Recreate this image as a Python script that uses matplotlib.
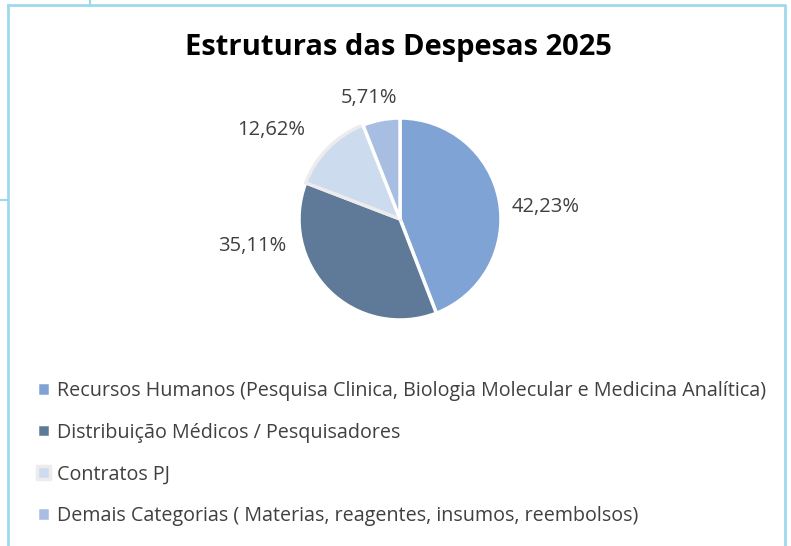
import matplotlib
matplotlib.use("Agg")
from matplotlib import pyplot as plt
from matplotlib.lines import Line2D

plt.rcParams['font.family'] = ['Open Sans', 'DejaVu Sans']

# data
categorias = [
    "Recursos Humanos (Pesquisa Clinica, Biologia Molecular e Medicina Analítica)",
    "Distribuição Médicos / Pesquisadores",
    "Contratos PJ",
    "Demais Categorias ( Materias, reagentes, insumos, reembolsos)",
]
percentuais = [42.23, 35.11, 12.62, 5.71]
cores = ["#7fa3d4", "#5f7a99", "#cddbef", "#a7bee2"]
# label positions (in pie-radius units), picked to sit where the reference has them
pos_rotulos = [(1.44, 0.12), (-1.46, -0.27), (-1.28, 0.88), (-0.31, 1.20)]

W, H = 791, 546
fig = plt.figure(figsize=(W / 100, H / 100), dpi=100)

# light blue frame around the chart area
borda = "#9dd9ec"
fig.add_artist(Line2D([8 / W, 785 / W, 785 / W], [1 - 5 / H, 1 - 5 / H, 0], color=borda, lw=2))
fig.add_artist(Line2D([8 / W, 8 / W], [1 - 5 / H, 0], color=borda, lw=2))
fig.add_artist(Line2D([90 / W, 90 / W], [1, 1 - 5 / H], color=borda, lw=1.5))
fig.add_artist(Line2D([0, 8 / W], [1 - 200 / H, 1 - 200 / H], color=borda, lw=1.5))

fig.text(398 / W, 1 - 48 / H, "Estruturas das Despesas 2025", ha="center", va="center",
         fontsize=21, fontweight="bold", color="black")

# pie axes: center at (400, 219) px, radius 101 px
cx, cy, R, half = 400, 219, 101, 200
ax = fig.add_axes([(cx - half) / W, 1 - (cy + half) / H, 2 * half / W, 2 * half / H])

rotulos = [f"{v:.2f}%".replace(".", ",") for v in percentuais]
wedges, texts = ax.pie(percentuais, colors=cores, startangle=90, counterclock=False,
                       labels=rotulos, labeldistance=1.3,
                       wedgeprops=dict(edgecolor="white", linewidth=2.5),
                       textprops=dict(fontsize=14.5, color="#404040"))
wedges[2].set_edgecolor("#ececec")
for t, p in zip(texts, pos_rotulos):
    t.set_position(p)
    t.set_ha("center")
    t.set_va("center")

ax.set_xlim(-half / R, half / R)
ax.set_ylim(-half / R, half / R)
ax.set_aspect("equal")
ax.axis("off")

fig.legend(wedges, categorias, loc="upper left", bbox_to_anchor=(29 / W, 1 - 373 / H),
           frameon=False, fontsize=14.2, labelcolor="#404040",
           handlelength=0.65, handleheight=0.65, handletextpad=0.35, labelspacing=1.1,
           borderaxespad=0)

fig.savefig("out.png", dpi=100)
